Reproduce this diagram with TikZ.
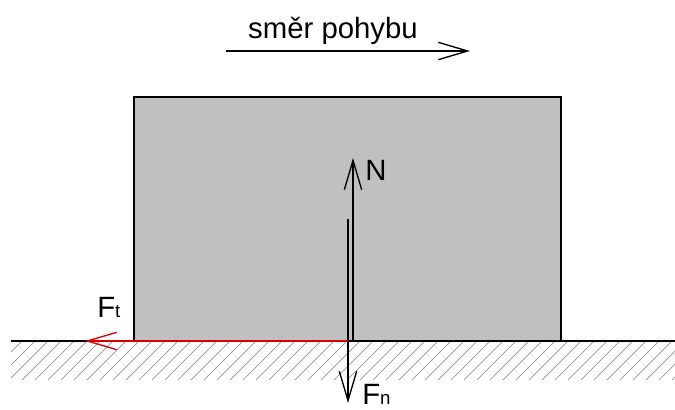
\documentclass[tikz,border=0pt]{standalone}
\usepackage{fontspec}
\setmainfont{Liberation Sans}
\usetikzlibrary{arrows.meta}
\usepackage{xcolor}
\definecolor{boxgray}{RGB}{192,192,192}
\begin{document}
\begin{tikzpicture}[
        x=0.75pt, y=-0.75pt,
        every node/.style={font=\fontsize{22}{26}\selectfont, inner sep=0pt},
        force/.style={line width=1pt, -{Straight Barb[length=22pt, width=13pt, line width=1pt]}},
        hatch/.style={gray, line width=0.5pt}
    ]
        \useasboundingbox (0,0) rectangle (675,410);
        % body
        \draw[line width=1.2pt, fill=boxgray] (134,97) rectangle (561,341);
        % ground with hatching
        \begin{scope}
            \clip (11,341) rectangle (675,380);
            \foreach \i in {0,...,55}
                \draw[hatch] (\i*13-30,380) -- (\i*13+9,341);
        \end{scope}
        \draw[line width=2pt] (11,341) -- (675,341);
        % direction of motion
        \coordinate (dirA) at (226,51);
        \coordinate (dirB) at (470,51);
        \draw[force] (dirA) -- (dirB);
        \node (dir) at (333,31) {směr pohybu};
        % forces
        \coordinate (nA) at (353,341);
        \coordinate (nB) at (353,158);
        \coordinate (fnA) at (348,219);
        \coordinate (fnB) at (348,403);
        \coordinate (ftA) at (348,341);
        \coordinate (ftB) at (85,341);
        \draw[force] (nA) -- (nB);
        \draw[force] (fnA) -- (fnB);
        \draw[force, red!85!black] (ftA) -- (ftB);
        \node[anchor=base west] (nlab) at (365,180) {N};
        \node[anchor=base west] (ftlab) at (97,317) {F{\fontsize{14}{16}\selectfont t}};
        \node[anchor=base west] (fnlab) at (362,404) {F{\fontsize{14}{16}\selectfont n}};
    \end{tikzpicture}
\end{document}
